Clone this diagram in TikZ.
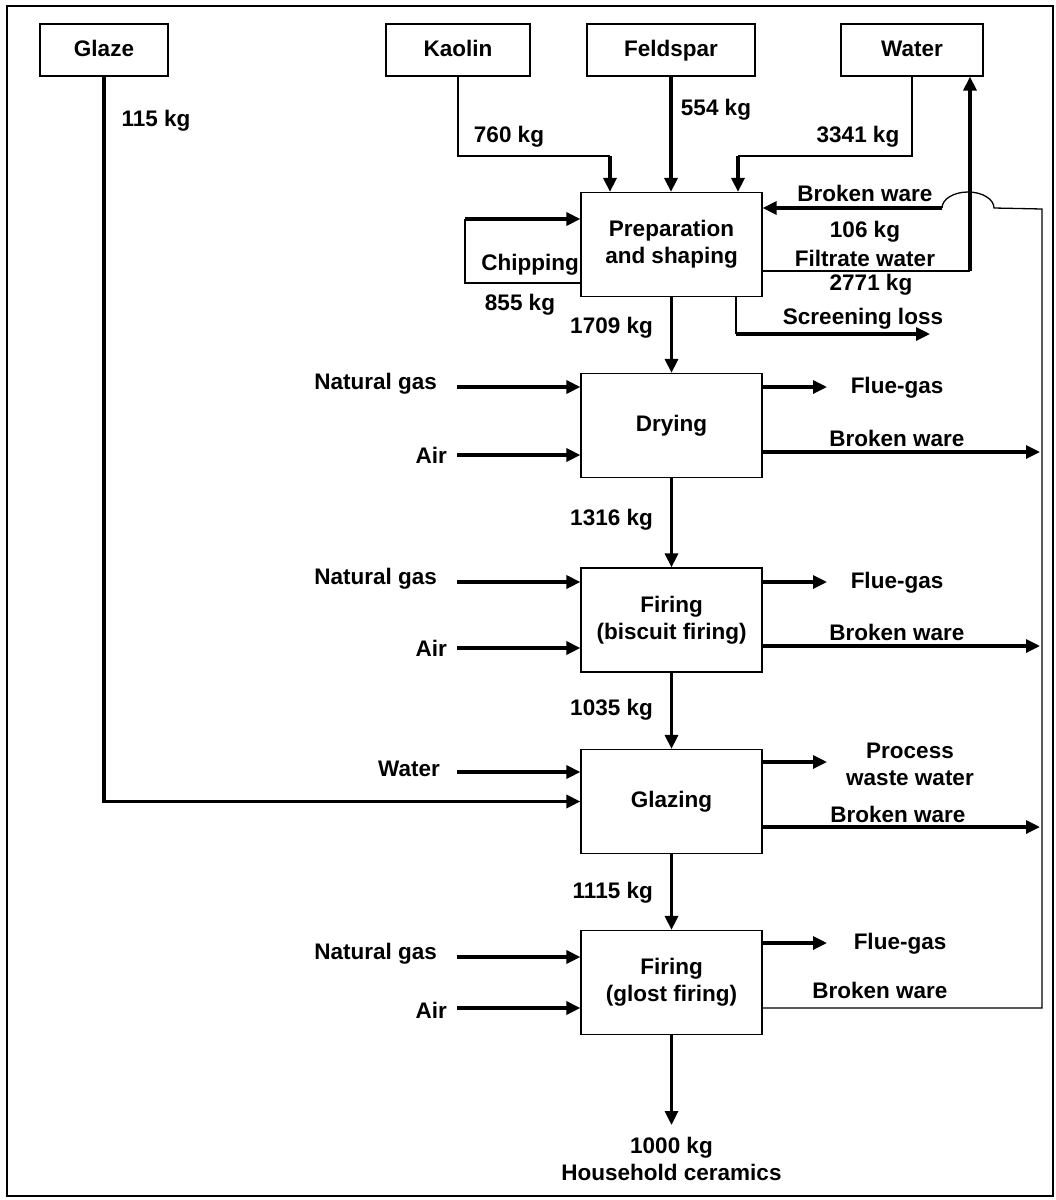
\documentclass[tikz,border=0pt]{standalone}
\usepackage{fontspec}
\setmainfont{Liberation Sans}
\usetikzlibrary{arrows.meta, positioning, calc}

\tikzset{
  box/.style={draw, line width=1.2pt, minimum width=181pt, minimum height=104pt, inner sep=0pt, align=center, font=\bfseries\fontsize{22.5}{27}\selectfont},
  srcbox/.style={draw, line width=1.2pt, minimum height=52pt, inner sep=0pt, text height=16pt, text depth=4pt, font=\bfseries\fontsize{22.5}{27}\selectfont},
  lbl/.style={font=\bfseries\fontsize{22.5}{27}\selectfont, inner sep=0pt, align=center},
  flow/.style={line width=3.2pt, -{Triangle[length=14pt,width=13pt]}},
  link/.style={line width=1.3pt},
}

\begin{document}
\begin{tikzpicture}[x=1pt, y=-1pt]
\useasboundingbox (0,0) rectangle (1056,1200);
\draw[line width=1.5pt] (7,6) rectangle (1053,1196);
% raw materials
\node[srcbox, minimum width=128pt] (glaze) at (104,50) {Glaze};
\node[srcbox, minimum width=144pt] (kaolin) at (458,50) {Kaolin};
\node[srcbox, minimum width=168pt] (feldspar) at (671,50) {Feldspar};
\node[srcbox, minimum width=142pt] (water) at (912,50) {Water};
%
% process steps
\node[box] (prep) at (671.5,244.5) {Preparation\\and shaping};
\node[box] (dry) at (671.5,425.5) {Drying};
\node[box] (fire1) at (671.5,620) {Firing\\(biscuit firing)};
\node[box] (glazing) at (671.5,801.5) {Glazing};
\node[box] (fire2) at (671.5,982.5) {Firing\\(glost firing)};
%
% feed into preparation
\coordinate (kbend) at (610,156);
\draw[link] (kaolin.south) |- (kbend);
\draw[flow] (kbend) -- (kbend |- prep.north);
\draw[flow] (feldspar.south) -- (feldspar.south |- prep.north);
\coordinate (wbend) at (738,156);
\draw[link] (water.south) |- (wbend);
\draw[flow] (wbend) -- (wbend |- prep.north);
\node[lbl] (m760) at (509,137) {760 kg};
\node[lbl] (m554) at (716,110) {554 kg};
\node[lbl] (m3341) at (858,137) {3341 kg};
\node[lbl] (m115) at (156,121) {115 kg};
%
% chipping loop
\coordinate (chipA) at (465,283);
\coordinate (chipB) at (465,219);
\draw[link] (chipA -| prep.west) -- (chipA) -- (chipB);
\draw[flow] (chipB) -- (chipB -| prep.west);
\node[lbl] (chip) at (530,265) {Chipping};
\node[lbl] (m855) at (520,305) {855 kg};
%
% broken ware return line
\coordinate (rbot) at (1042,1008);
\coordinate (rtop) at (1042,209);
\coordinate (hopR) at (994,208);
\coordinate (hopL) at (942,208);
\draw[link] (rbot -| fire2.east) -- (rbot) -- (rtop) -- (hopR) arc[start angle=0, end angle=180, x radius=26pt, y radius=16pt];
\draw[flow] (hopL) -- (hopL -| prep.east);
\node[lbl] (brk0) at (865,193) {Broken ware};
\node[lbl] (m106) at (865,232) {106 kg};
%
% filtrate water
\coordinate (fup) at (970,271);
\draw[link] (fup -| prep.east) -- (fup);
\draw[flow] (fup) -- (fup |- water.south);
\node[lbl] (filt) at (865,258) {Filtrate water};
\node[lbl] (m2771) at (871,285) {2771 kg};
%
% screening loss
\coordinate (scr) at (736,334);
\coordinate (scrend) at (930,334);
\draw[link] (scr |- prep.south) -- (scr);
\draw[flow] (scr) -- (scrend);
\node[lbl] (scrl) at (863,319) {Screening loss};
%
% main line
\draw[flow] (prep) -- (dry);
\draw[flow] (dry) -- (fire1);
\draw[flow] (fire1) -- (glazing);
\draw[flow] (glazing) -- (fire2);
\coordinate (out) at (671.5,1125);
\draw[flow] (fire2) -- (out);
\node[lbl, anchor=east] (m1709) at (653,328) {1709 kg};
\node[lbl, anchor=east] (m1316) at (653,520) {1316 kg};
\node[lbl, anchor=east] (m1035) at (653,710) {1035 kg};
\node[lbl, anchor=east] (m1115) at (653,893) {1115 kg};
\node[lbl] (product) at (671.5,1159) {1000 kg\\Household ceramics};
%
% drying
\node[lbl, anchor=east] (gas1) at (437,384) {Natural gas};
\node[lbl, anchor=east] (air1) at (447,455) {Air};
\coordinate (gas1in) at (457,387);
\coordinate (air1in) at (457,455);
\draw[flow] (gas1in) -- (gas1in -| dry.west);
\draw[flow] (air1in) -- (air1in -| dry.west);
\coordinate (flue1) at (827,387);
\coordinate (brk1) at (1040,452);
\draw[flow] (flue1 -| dry.east) -- (flue1);
\draw[flow] (brk1 -| dry.east) -- (brk1);
\node[lbl] (fg1) at (897,388) {Flue-gas};
\node[lbl] (bw1) at (897,438) {Broken ware};
%
% biscuit firing
\node[lbl, anchor=east] (gas2) at (437,579) {Natural gas};
\node[lbl, anchor=east] (air2) at (447,648) {Air};
\coordinate (gas2in) at (457,582);
\coordinate (air2in) at (457,648);
\draw[flow] (gas2in) -- (gas2in -| fire1.west);
\draw[flow] (air2in) -- (air2in -| fire1.west);
\coordinate (flue2) at (827,582);
\coordinate (brk2) at (1040,646);
\draw[flow] (flue2 -| fire1.east) -- (flue2);
\draw[flow] (brk2 -| fire1.east) -- (brk2);
\node[lbl] (fg2) at (897,583) {Flue-gas};
\node[lbl] (bw2) at (897,632) {Broken ware};
%
% glazing
\node[lbl, anchor=east] (wat3) at (440,769) {Water};
\coordinate (wat3in) at (457,772);
\draw[flow] (wat3in) -- (wat3in -| glazing.west);
\draw[flow] (glaze.south) |- (glazing.west);
\coordinate (pww) at (827,762);
\coordinate (brk3) at (1040,827);
\draw[flow] (pww -| glazing.east) -- (pww);
\draw[flow] (brk3 -| glazing.east) -- (brk3);
\node[lbl] (pw3) at (910,764) {Process\\waste water};
\node[lbl] (bw3) at (898,814) {Broken ware};
%
% glost firing
\node[lbl, anchor=east] (gas4) at (437,954) {Natural gas};
\node[lbl, anchor=east] (air4) at (447,1010) {Air};
\coordinate (gas4in) at (457,957);
\coordinate (air4in) at (457,1008);
\draw[flow] (gas4in) -- (gas4in -| fire2.west);
\draw[flow] (air4in) -- (air4in -| fire2.west);
\coordinate (flue4) at (827,943);
\draw[flow] (flue4 -| fire2.east) -- (flue4);
\node[lbl] (fg4) at (900,944) {Flue-gas};
\node[lbl] (bw4) at (880,990) {Broken ware};
\end{tikzpicture}
\end{document}
